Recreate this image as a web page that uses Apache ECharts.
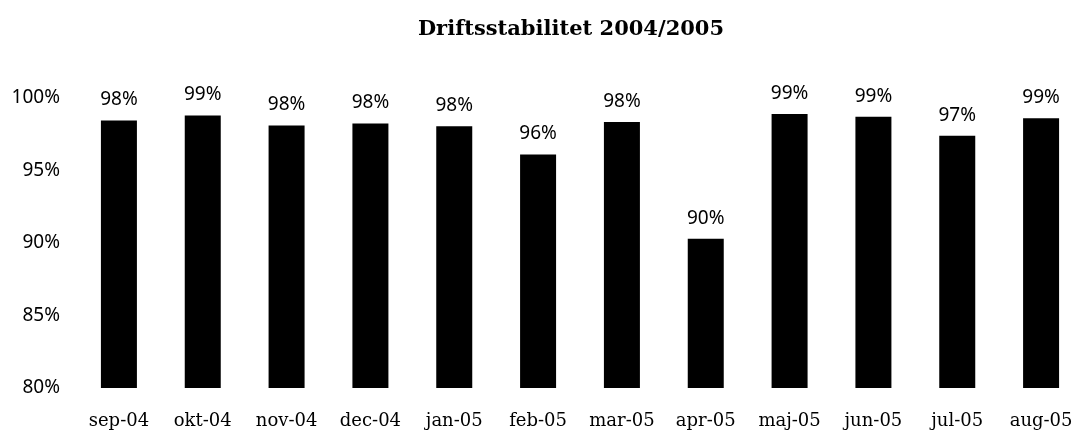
<!DOCTYPE html>
<html>
<head>
<meta charset="utf-8">
<script src="https://cdn.jsdelivr.net/npm/echarts@6/dist/echarts.min.js"></script>
<style>html,body{margin:0;padding:0;background:#fff}#c{width:1083px;height:434px}</style>
</head>
<body>
<div id="c"></div>
<script>
const title = 'Driftsstabilitet 2004/2005';
const categories = ['sep-04','okt-04','nov-04','dec-04','jan-05','feb-05','mar-05','apr-05','maj-05','jun-05','jul-05','aug-05'];
const values = [98.45, 98.8, 98.1, 98.25, 98.05, 96.1, 98.35, 90.3, 98.9, 98.7, 97.4, 98.6];
const yMin = 80, yMax = 100, yStep = 5;

const chart = echarts.init(document.getElementById('c'), null, {renderer: 'canvas'});
chart.setOption({
  animation: false,
  backgroundColor: '#fff',
  title: {
    text: title,
    left: 566, top: 14, textAlign: 'center',
    textStyle: {fontFamily: 'DejaVu Serif', fontWeight: 'bold', fontSize: 21, color: '#000'}
  },
  grid: {left: 77, right: -4, top: 98, bottom: 46, containLabel: false},
  xAxis: {
    type: 'category', data: categories,
    axisLine: {show: false}, axisTick: {show: false},
    axisLabel: {interval: 0, hideOverlap: false, fontFamily: 'DejaVu Serif', fontSize: 18, color: '#000', margin: 24}
  },
  yAxis: {
    type: 'value', min: yMin, max: yMax, interval: yStep,
    splitLine: {show: false}, axisLine: {show: false}, axisTick: {show: false},
    axisLabel: {fontFamily: 'Noto Sans', fontSize: 19, color: '#000', margin: 17, formatter: v => v + '%'}
  },
  series: [{
    type: 'bar', data: values, barWidth: 36,
    itemStyle: {color: '#000'},
    label: {show: true, position: 'top', distance: 11, fontFamily: 'Noto Sans', fontSize: 19, color: '#000',
            formatter: p => Math.round(p.value) + '%'}
  }]
});
</script>
</body>
</html>
